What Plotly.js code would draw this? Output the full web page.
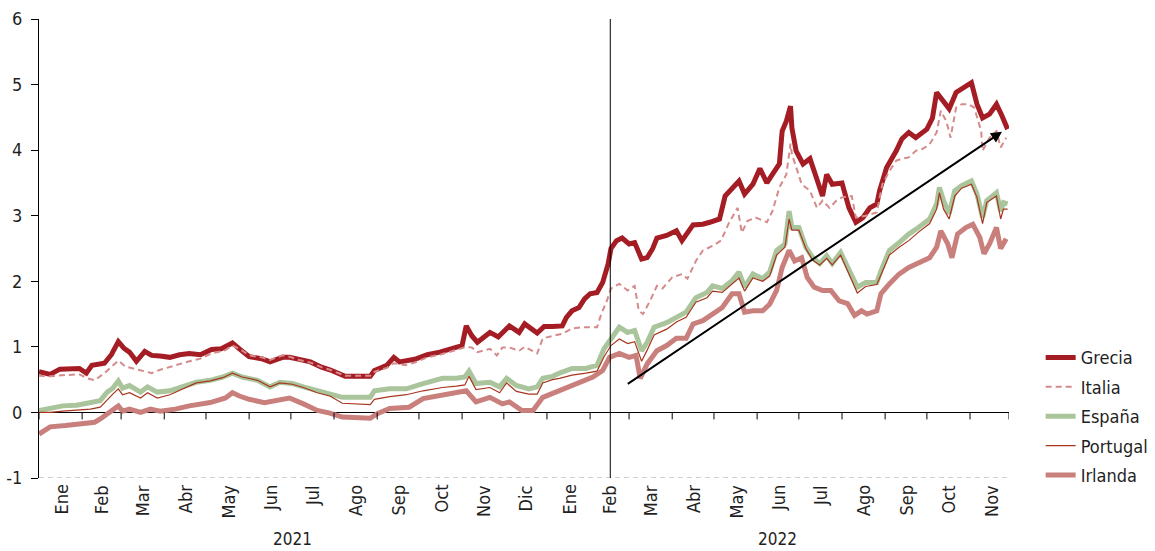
<!DOCTYPE html>
<html><head><meta charset="utf-8">
<script src="https://cdn.plot.ly/plotly-3.0.1.min.js"></script>
<style>html,body{margin:0;padding:0;background:#fff}#chart{width:1155px;height:551px}</style>
</head><body><div id="chart"></div>
<script>
// x values are day numbers counted from 1 Jan 2021
const monthNames = ['Ene','Feb','Mar','Abr','May','Jun','Jul','Ago','Sep','Oct','Nov','Dic'];
const years = ['2021','2022'];
const monthsPerYear = [12, 11];
const axisEndDay = 697;
const febLineDay = 410.5;
const arrowFrom = [422, 0.42];
const arrowTo = [692, 4.28];
const yTicks = [-1,0,1,2,3,4,5,6];

const greciaDay = [0,8,15,22,29,34,38,47,52,57, 61,65,70,76,81,87,94,101,108,116,
 124,131,139,144,151,160,166,175,180,187, 195,203,209,220,238,241,250,255,259,270,
 279,288,297,304,307,311,315,324,330,338, 345,349,358,363,369,376,379,383,388,392,
 396,401,405,409,411,415,419,424,428,433, 437,441,444,451,458,462,470,477,482,489,
 493,498,503,507,513,518,523,527,532,534, 537,540,541,544,549,554,559,563,566,570,
 577,582,587,592,597,602,604,609,616,620, 625,630,638,642,645,649,654,659,663,670,
 674,678,683,688,692,696];
const greciaVal = [0.62,0.58,0.66,0.66,0.67,0.60,0.72,0.75,0.88,1.08, 0.98,0.92,0.78,0.93,0.87,0.86,0.84,0.88,0.90,0.88,
 0.96,0.97,1.06,0.97,0.85,0.82,0.77,0.84,0.84,0.81, 0.77,0.69,0.65,0.55,0.55,0.64,0.72,0.84,0.77,0.81,
 0.88,0.92,0.97,1.02,1.32,1.17,1.07,1.22,1.15,1.32, 1.22,1.35,1.21,1.31,1.31,1.32,1.45,1.55,1.60,1.73,
 1.81,1.83,1.98,2.27,2.50,2.62,2.66,2.57,2.59,2.34, 2.36,2.50,2.66,2.70,2.77,2.62,2.86,2.87,2.90,2.95,
 3.30,3.43,3.53,3.33,3.48,3.72,3.50,3.63,3.79,4.29, 4.44,4.67,4.34,3.99,3.79,3.87,3.58,3.30,3.63,3.48,
 3.50,3.12,2.90,2.97,3.12,3.18,3.38,3.73,3.99,4.17, 4.27,4.19,4.32,4.49,4.88,4.78,4.63,4.88,4.93,5.03,
 4.70,4.49,4.55,4.70,4.52,4.32];

const italiaDay = [0,8,19,29,35,40,47,52,57,62, 69,76,81,87,98,108,116,124,134,139,
 144,151,160,166,175,180,187,195,203,209, 220,238,241,250,255,263,270,279,288,297,
 304,307,311,315,319,324,329,333,338,345, 349,358,362,369,376,383,391,401,404,408,
 411,417,423,428,431,434,439,444,448,455, 462,466,472,477,484,490,496,502,505,509,
 515,523,527,532,537,540,541,545,548,554, 559,563,568,573,577,584,587,594,602,606,
 611,616,620,625,630,635,640,645,648,652, 655,659,663,668,672,677,678,683,688,691,
 695];
const italiaVal = [0.56,0.55,0.57,0.58,0.52,0.49,0.60,0.70,0.79,0.70, 0.66,0.63,0.60,0.65,0.72,0.78,0.82,0.90,0.95,1.02,
 0.97,0.87,0.84,0.80,0.87,0.85,0.80,0.76,0.69,0.65, 0.56,0.56,0.62,0.68,0.75,0.72,0.76,0.84,0.88,0.93,
 0.98,1.00,0.99,0.92,0.94,0.97,0.87,0.99,0.99,0.94, 1.00,0.90,1.13,1.17,1.20,1.28,1.30,1.30,1.50,1.70,
 1.89,1.96,1.86,1.93,1.55,1.50,1.70,1.93,1.89,2.06, 2.11,2.04,2.31,2.47,2.54,2.62,2.90,3.12,2.74,2.92,
 2.97,2.90,3.07,3.43,3.63,4.10,3.94,3.68,3.48,3.38, 3.12,3.23,3.12,3.23,3.28,3.30,2.97,3.00,3.05,3.48,
 3.68,3.84,3.87,3.89,3.99,4.02,4.09,4.27,4.60,4.44, 4.19,4.65,4.70,4.70,4.65,4.29,3.99,4.19,4.29,4.04,
 4.19];

const espanaDay = [0,8,17,27,37,44,49,53,57,60, 65,73,78,85,94,103,113,123,132,139,
 146,157,166,173,182,190,200,209,218,238, 241,252,264,276,290,300,306,309,314,324,
 331,336,343,352,358,362,369,374,383,393, 401,406,411,417,423,428,433,437,442,451,
 458,465,472,480,484,491,498,503,507,513, 520,525,530,536,539,541,546,551,556,561,
 566,570,576,582,588,594,602,605,611,618, 625,632,640,645,647,650,654,658,663,670,
 674,678,681,688,691,693,696];
const espanaVal = [0.03,0.06,0.10,0.11,0.14,0.18,0.31,0.37,0.48,0.37, 0.41,0.31,0.39,0.31,0.33,0.39,0.46,0.49,0.54,0.60,
 0.54,0.49,0.39,0.46,0.44,0.39,0.33,0.29,0.23,0.23, 0.33,0.36,0.36,0.44,0.52,0.52,0.54,0.63,0.44,0.46,
 0.39,0.52,0.41,0.36,0.39,0.52,0.55,0.60,0.67,0.67, 0.72,0.97,1.13,1.30,1.22,1.25,0.94,1.07,1.30,1.37,
 1.45,1.53,1.75,1.83,1.93,1.89,2.01,2.14,1.91,2.11, 2.04,2.14,2.47,2.57,3.07,2.82,2.82,2.52,2.36,2.27,
 2.39,2.27,2.44,2.16,1.91,1.98,1.98,2.16,2.47,2.59, 2.72,2.82,2.95,3.18,3.43,3.23,3.03,3.38,3.46,3.53,
 3.33,2.97,3.23,3.35,3.07,3.20,3.18];

const portugalDay = espanaDay;
const portugalVal = [0.00,0.00,0.02,0.03,0.05,0.08,0.20,0.28,0.36,0.27, 0.30,0.22,0.30,0.22,0.27,0.35,0.45,0.48,0.53,0.60,
 0.54,0.49,0.39,0.45,0.43,0.38,0.30,0.25,0.14,0.12, 0.20,0.24,0.27,0.33,0.38,0.40,0.42,0.55,0.35,0.38,
 0.30,0.45,0.32,0.28,0.28,0.45,0.50,0.52,0.57,0.60, 0.63,0.85,1.02,1.12,1.05,1.08,0.78,0.95,1.18,1.27,
 1.38,1.45,1.68,1.75,1.85,1.83,1.95,2.05,1.85,2.05, 2.00,2.08,2.40,2.52,2.95,2.78,2.78,2.50,2.32,2.25,
 2.35,2.25,2.40,2.10,1.82,1.92,1.95,2.10,2.40,2.52, 2.62,2.75,2.88,3.10,3.35,3.10,2.95,3.30,3.42,3.48,
 3.28,2.88,3.20,3.30,2.95,3.10,3.10];

const irlandaDay = [0,4,8,19,29,40,44,50,57,60, 65,73,80,87,98,108,116,123,134,139,
 144,151,162,173,180,190,200,209,218,238, 243,252,266,276,290,300,307,314,324,333,
 338,347,355,362,369,379,388,398,405,410, 417,424,429,432,437,444,451,458,465,470,
 477,484,491,498,503,507,513,520,525,530, 534,539,543,548,552,557,563,569,575,581,
 586,591,595,602,605,611,618,625,632,640, 645,648,653,656,660,666,671,676,679,683,
 688,691,695];
const irlandaVal = [-0.33,-0.28,-0.22,-0.20,-0.18,-0.15,-0.10,0.00,0.10,0.02, 0.05,0.00,0.05,0.02,0.05,0.10,0.12,0.15,0.22,0.30,
 0.25,0.20,0.15,0.20,0.22,0.13,0.03,-0.01,-0.07,-0.09, -0.02,0.06,0.08,0.21,0.26,0.29,0.33,0.16,0.23,0.13,
 0.16,0.03,0.03,0.23,0.29,0.39,0.46,0.54,0.64,0.84, 0.90,0.84,0.87,0.52,0.74,0.94,1.02,1.13,1.13,1.35,
 1.40,1.50,1.60,1.81,1.81,1.53,1.55,1.55,1.65,1.86, 2.21,2.47,2.31,2.36,2.06,1.91,1.86,1.86,1.70,1.66,
 1.48,1.55,1.50,1.55,1.81,1.96,2.11,2.21,2.29,2.36, 2.52,2.77,2.57,2.36,2.72,2.82,2.87,2.67,2.42,2.57,
 2.82,2.50,2.65];

const seriesNames = ['Grecia','Italia','España','Portugal','Irlanda'];
const seriesColors = ['#A51D24','#D58B8B','#AAC59C','#A8361F','#C97F7C'];
const seriesWidths = [5, 2, 5, 1.2, 5];
const seriesDash = ['solid','6px,4px','solid','solid','solid'];
const seriesX = [greciaDay, italiaDay, espanaDay, portugalDay, irlandaDay];
const seriesY = [greciaVal, italiaVal, espanaVal, portugalVal, irlandaVal];

const FONT = '"DejaVu Sans Condensed","Liberation Sans Narrow",sans-serif';
const TXT = '#1f1f1f';

const traces = seriesNames.map((n,i)=>({
  type:'scatter', mode:'lines', name:n, x:seriesX[i], y:seriesY[i],
  legendgroup:'g'+i,
  line:{color:seriesColors[i], width:seriesWidths[i], dash:seriesDash[i], shape:'linear'},
  hoverinfo:'skip'
}));

// month boundaries / label positions from the calendar
const DAY = 86400000, START = Date.UTC(2021,0,1);
const dayOf = (y,m,d)=> (Date.UTC(y,m,d)-START)/DAY;
const bounds = [], mids = [], labels = [], yearStarts = [];
years.forEach((yr,yi)=>{
  const y = +yr;
  yearStarts.push(dayOf(y,0,1));
  for (let m=0; m<monthsPerYear[yi]; m++){
    const s = dayOf(y,m,1), e = dayOf(y,m+1,1);
    bounds.push(s); mids.push((s+e)/2); labels.push(monthNames[m]);
  }
});
const yearEdges = yearStarts.concat([axisEndDay]);

const shapes = [];
const blk = {color:'#000', width:1};
shapes.push({type:'line', xref:'paper', x0:0, x1:1, yref:'y', y0:-1, y1:-1, line:{color:'#a6a6a6', width:1.2, dash:'5px,4px'}, layer:'below'});
bounds.concat([axisEndDay]).forEach(b=>{
  shapes.push({type:'line', xref:'x', x0:b, x1:b, yref:'y', ysizemode:'pixel', yanchor:0, y0:0, y1:-7, line:blk});
});
bounds.forEach(b=>{
  if (yearEdges.indexOf(b) >= 0) return;
  shapes.push({type:'line', xref:'x', x0:b, x1:b, yref:'y', ysizemode:'pixel', yanchor:-1, y0:-2, y1:-8, line:blk});
});
yearEdges.forEach(b=>{
  shapes.push({type:'line', xref:'x', x0:b, x1:b, yref:'y', ysizemode:'pixel', yanchor:-1, y0:0, y1:-70, line:blk});
});
shapes.push({type:'line', xref:'x', x0:febLineDay, x1:febLineDay, yref:'y', y0:-1, y1:6, line:blk});

const annotations = [];
labels.forEach((t,i)=>{
  annotations.push({xref:'x', x:mids[i], yref:'y', y:-1, yshift:-5, text:t, showarrow:false,
    textangle:-90, xanchor:'center', yanchor:'top', font:{family:FONT, size:18, color:TXT}});
});
years.forEach((t,i)=>{
  annotations.push({xref:'x', x:(yearEdges[i]+yearEdges[i+1])/2, yref:'y', y:-1, yshift:-61, text:t, showarrow:false,
    xanchor:'center', yanchor:'middle', font:{family:FONT, size:17, color:TXT}});
});
annotations.push({xref:'x', yref:'y', x:arrowTo[0], y:arrowTo[1], axref:'x', ayref:'y', ax:arrowFrom[0], ay:arrowFrom[1],
  text:'', showarrow:true, arrowhead:2, arrowsize:1.1, arrowwidth:2, arrowcolor:'#000', standoff:0});

const layout = {
  width:1155, height:551,
  margin:{l:39, r:146, t:19, b:73, pad:0},
  paper_bgcolor:'#fff', plot_bgcolor:'#fff',
  font:{family:FONT, size:18, color:TXT},
  showlegend:true,
  legend:{xref:'container', yref:'container', x:0.901, xanchor:'left', y:0.3844, yanchor:'top', bgcolor:'rgba(0,0,0,0)',
    font:{family:FONT, size:18, color:TXT}, tracegroupgap:3, itemwidth:30, traceorder:'grouped'},
  xaxis:{range:[0, axisEndDay], showticklabels:false, ticks:'', showgrid:false, zeroline:false, showline:false, fixedrange:true},
  yaxis:{range:[-1,6], tickvals:yTicks, ticktext:yTicks.map(String), ticks:'outside', ticklen:7, tickcolor:'#000', tickwidth:1,
    showline:true, linecolor:'#000', linewidth:1, showgrid:false, zeroline:true, zerolinecolor:'#000', zerolinewidth:1,
    ticklabelstandoff:5, tickfont:{family:FONT, size:18, color:TXT}, fixedrange:true},
  shapes:shapes, annotations:annotations
};
Plotly.newPlot('chart', traces, layout, {displayModeBar:false, staticPlot:true});
</script></body></html>
